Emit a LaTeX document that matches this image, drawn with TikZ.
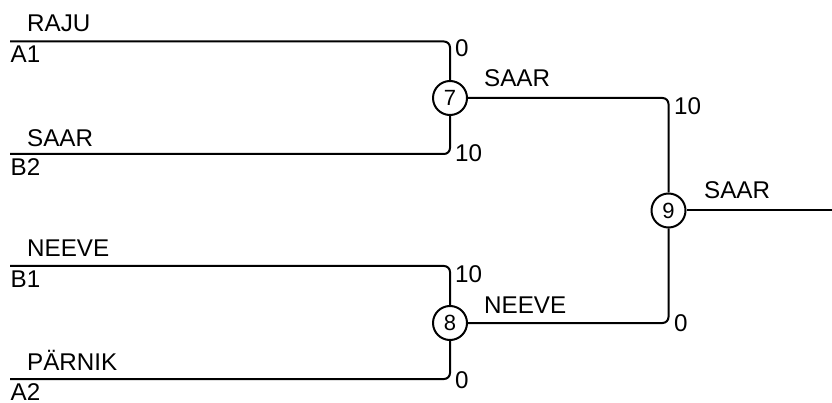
\documentclass[tikz,border=0pt]{standalone}
\usepackage{fontspec}
\setmainfont{Liberation Sans}
\begin{document}
\begin{tikzpicture}[x=1pt,y=-1pt,
  wire/.style={line width=2pt, rounded corners=6pt},
  judge/.style={circle, draw, line width=2pt, minimum size=34pt, inner sep=0pt, font=\fontsize{22}{26}\selectfont},
  lbl/.style={anchor=base west, inner sep=0pt, font=\fontsize{24.2}{27}\selectfont}]
\useasboundingbox (0,0) rectangle (832,403);
% judges
\node[judge] (c7) at (450,98) {7};
\node[judge] (c8) at (450,323) {8};
\node[judge] (c9) at (668.5,210.5) {9};
% start coordinates
\coordinate (sa1) at (10,41.5);
\coordinate (sb2) at (10,154);
\coordinate (sb1) at (10,266);
\coordinate (sa2) at (10,379);
\coordinate (out) at (832,210.5);
% wires
\draw[wire] (sa1) -| (c7);
\draw[wire] (sb2) -| (c7);
\draw[wire] (sb1) -| (c8);
\draw[wire] (sa2) -| (c8);
\draw[wire] (c7) -| (c9);
\draw[wire] (c8) -| (c9);
\draw[wire] (c9) -- (out);
% labels
\node[lbl] (tRaju) at (27,32) {RAJU};
\node[lbl] (tA1) at (10.5,63) {A1};
\node[lbl] (tSaar1) at (27,147) {SAAR};
\node[lbl] (tB2) at (10.5,176) {B2};
\node[lbl] (tNeeve1) at (27,257) {NEEVE};
\node[lbl] (tB1) at (10.5,287.5) {B1};
\node[lbl] (tParnik) at (27,370) {PÄRNIK};
\node[lbl] (tA2) at (10.5,400) {A2};
\node[lbl] (s7a) at (455,57) {0};
\node[lbl] (s7b) at (455,162) {10};
\node[lbl] (s8a) at (455,283) {10};
\node[lbl] (s8b) at (455,388) {0};
\node[lbl] (w7) at (484,87) {SAAR};
\node[lbl] (w8) at (484,313) {NEEVE};
\node[lbl] (s9a) at (674,115) {10};
\node[lbl] (s9b) at (674,331) {0};
\node[lbl] (w9) at (704,199) {SAAR};
\end{tikzpicture}
\end{document}
